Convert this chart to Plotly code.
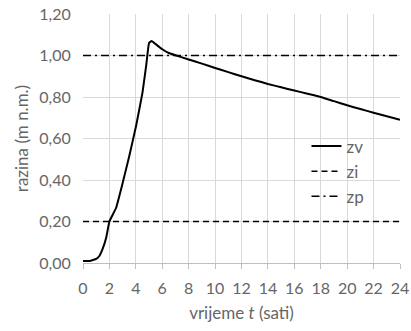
import plotly.graph_objects as go

t_hours = [0, 0.5, 1, 1.25, 1.5, 1.75, 2, 2.5, 3, 3.5, 4, 4.5, 4.8, 5, 5.2, 5.5, 6, 6.5, 7, 8, 9, 10,
           11, 12, 13, 14, 15, 16, 17, 18, 19, 20, 21, 22, 23, 24]
zv = [0.01, 0.01, 0.02, 0.035, 0.07, 0.12, 0.20, 0.265, 0.385, 0.515, 0.655, 0.82, 0.96, 1.06, 1.07, 1.055,
      1.03, 1.012, 1.001, 0.981, 0.961, 0.94, 0.92, 0.90, 0.881, 0.863, 0.847, 0.831, 0.816, 0.80, 0.78,
      0.76, 0.742, 0.724, 0.707, 0.69]
t_ref = [0, 24]
zi = [0.20, 0.20]
zp = [1.00, 1.00]

x_ticks = list(range(0, 25, 2))
y_ticks = [0, 0.2, 0.4, 0.6, 0.8, 1.0, 1.2]

FONT = "Lato"
GRAY = "#666666"

fig = go.Figure()
fig.add_trace(go.Scatter(x=t_hours, y=zv, mode="lines", name="zv",
                         line=dict(color="#000000", width=2, shape="spline", smoothing=0.3)))
fig.add_trace(go.Scatter(x=t_ref, y=zi, mode="lines", name="zi",
                         line=dict(color="#000000", width=1.5, dash="6px,4px")))
fig.add_trace(go.Scatter(x=t_ref, y=zp, mode="lines", name="zp",
                         line=dict(color="#000000", width=1.5, dash="8px,4px,2px,4px")))

fig.update_layout(
    width=411, height=331,
    margin=dict(l=83, r=11, t=14, b=68),
    paper_bgcolor="white", plot_bgcolor="white",
    separators=", ",
    font=dict(family=FONT, size=16, color=GRAY),
    showlegend=True,
    legend=dict(x=0.705, y=0.54, xanchor="left", yanchor="top",
                bgcolor="rgba(0,0,0,0)", font=dict(size=17, color=GRAY),
                tracegroupgap=0, itemwidth=30),
    xaxis=dict(range=[0, 24], tickvals=x_ticks, ticktext=[str(v) for v in x_ticks],
               showgrid=True, gridcolor="#d9d9d9", gridwidth=1, automargin=False,
               zeroline=False, showline=True, linecolor="#bfbfbf", linewidth=1,
               ticks="outside", ticklen=5, tickcolor="#bfbfbf", ticklabelstandoff=6,
               tickfont=dict(size=16, color=GRAY),
               title=dict(text="vrijeme <i>t</i> (sati)", font=dict(size=17, color=GRAY), standoff=10)),
    yaxis=dict(range=[0, 1.2], tickvals=y_ticks, tickformat=".2f",
               showgrid=True, gridcolor="#d9d9d9", gridwidth=1, automargin=False,
               zeroline=False, showline=False, ticks="outside", ticklen=8,
               tickcolor="rgba(0,0,0,0)",
               tickfont=dict(size=16, color=GRAY),
               title=dict(text="razina (m n.m.)", font=dict(size=17, color=GRAY), standoff=6)),
)

fig.write_html("out.html")
